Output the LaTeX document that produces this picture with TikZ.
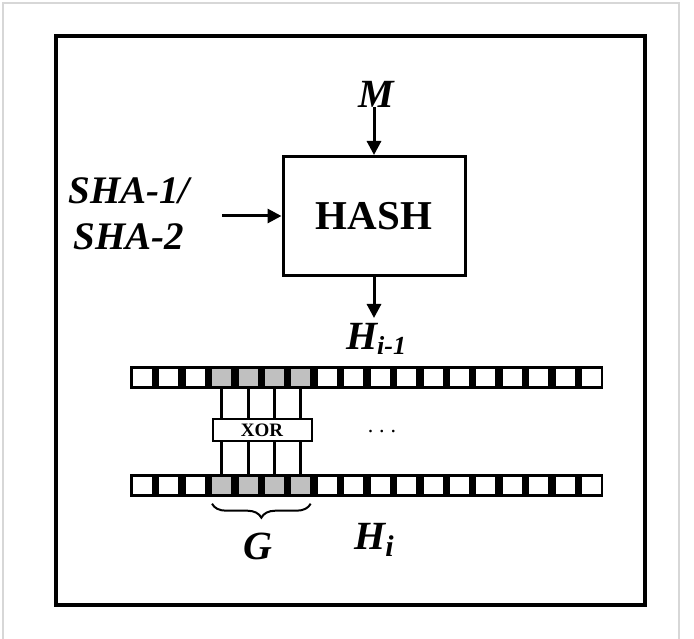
\documentclass[tikz,border=0pt]{standalone}
\usepackage{fontspec}
\setmainfont{Liberation Serif}
\usetikzlibrary{arrows.meta,decorations.pathreplacing}
\definecolor{cellgrey}{RGB}{192,192,192}
\definecolor{pageframe}{RGB}{215,215,215}
\begin{document}
\begin{tikzpicture}[x=1pt,y=-1pt,
  lbl/.style={font=\fontsize{40}{44}\selectfont\bfseries\itshape, inner sep=0pt},
  arr/.style={line width=3pt,-{Triangle[length=14pt,width=14pt]}},
  band/.style={fill=black, draw=none, inner sep=0pt, minimum width=473pt, minimum height=23pt, anchor=west},
  cellw/.style={fill=white, draw=none, inner sep=0pt, minimum width=19pt, minimum height=17pt},
  cellg/.style={cellw, fill=cellgrey},
  wire/.style={line width=3pt}]
\useasboundingbox (0,0) rectangle (694,639);
\fill[white] (0,0) rectangle (694,639);
\draw[pageframe, line width=1.5pt] (3,645) -- (3,3) -- (679,3) -- (679,645);
\draw[line width=4pt] (56,36) rectangle (645,605);
% hash block
\node[draw, line width=3pt, minimum width=182pt, minimum height=119pt, inner sep=0pt,
      font=\fontsize{41}{44}\selectfont\bfseries] (hash) at (374,216) {HASH};
\node[lbl] (m) at (376,94) {M};
\coordinate (min) at (hash.north |- m.south);
\draw[arr] (min) -- (hash.north);
\node[lbl, align=center, font=\fontsize{39}{46}\selectfont\bfseries\itshape] (sha) at (129,214) {SHA-1/\\SHA-2};
\coordinate (shaout) at (222,216);
\draw[arr] (shaout) -- (hash.west);
\coordinate (hout) at (374,318);
\draw[arr] (hash.south) -- (hout);
\node[lbl] (hprev) at (376,339) {H\raisebox{-5pt}{\fontsize{26}{28}\selectfont i-1}};
% bit rows
\node[band] (toprow) at (130,377.5) {};
\node[band] (botrow) at (130,485) {};
\foreach \i in {0,...,17}{
  \ifnum\i>2 \ifnum\i<7
    \node[cellg] (t\i) at (142.5+26.41*\i,377.5) {};
    \node[cellg] (b\i) at (142.5+26.41*\i,485) {};
  \else
    \node[cellw] (t\i) at (142.5+26.41*\i,377.5) {};
    \node[cellw] (b\i) at (142.5+26.41*\i,485) {};
  \fi\else
    \node[cellw] (t\i) at (142.5+26.41*\i,377.5) {};
    \node[cellw] (b\i) at (142.5+26.41*\i,485) {};
  \fi
}
\foreach \i in {3,...,6}{
  \draw[wire] (t\i.south) -- (b\i.north);
}
\node[draw, line width=2pt, fill=white, minimum width=99pt, minimum height=22pt, inner sep=0pt,
      font=\fontsize{19}{20}\selectfont\bfseries] (xor) at (262,430) {XOR};
\node[inner sep=0pt, font=\fontsize{22}{22}\selectfont] (dots) at (382,432) {.\hspace{6pt}.\hspace{6pt}.};
% brace and labels
\draw[line width=2pt, decorate, decoration={brace, mirror, amplitude=14pt}]
  ([yshift=-10pt]b3.south west) -- ([yshift=-10pt]b6.south east);
\node[lbl] (g) at (258,546) {G};
\node[lbl] (hi) at (374,540) {H\raisebox{-7pt}{\fontsize{30}{30}\selectfont i}};
\end{tikzpicture}
\end{document}
